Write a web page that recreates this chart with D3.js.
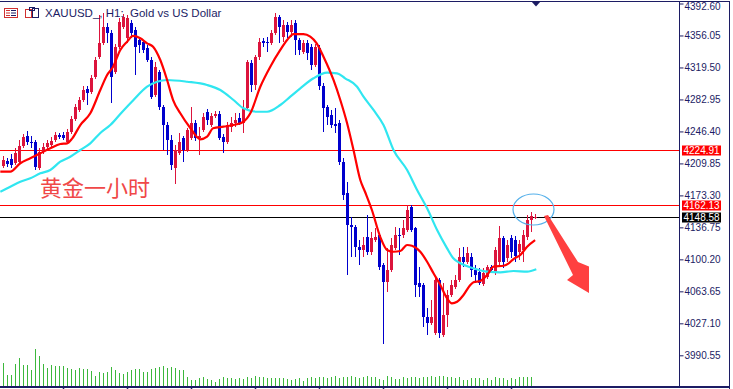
<!DOCTYPE html>
<html>
<head>
<meta charset="utf-8">
<script src="https://cdn.jsdelivr.net/npm/d3@7"></script>
<style>
 body { margin: 0; background: #fff; }
 svg { display: block; font-family: "Liberation Sans", Arial, sans-serif; }
</style>
</head>
<body>
<svg id="chart"></svg>
<script>
// XAUUSD H1 candles (bar 0 = leftmost)
const opens = [
 4206.9,4212.6,4214.9,4210.3,4211.5,4229.7,4241.2,4234.3,4234.3,4204.6,
 4222.9,4228.6,4230.9,4236.6,4242.3,4242.3,4234.3,4245.7,4260.6,4270.9,
 4282.3,4294.9,4291.5,4308.6,4331.5,4347.5,4365.7,4358.9,4314.3,4342.9,
 4365.7,4353.2,4370.3,4362.3,4350.9,4348.6,4341.7,4328.0,4288.0,4314.3,
 4274.3,4253.7,4236.6,4204.6,4221.7,4238.9,4225.2,4238.9,4256.0,4238.9,
 4248.0,4268.6,4253.7,4264.0,4266.3,4240.0,4234.3,4251.5,4256.0,4261.7,
 4256.0,4273.2,4324.6,4299.5,4331.5,4349.7,4348.6,4347.5,4358.9,4377.2,
 4354.3,4368.0,4360.0,4370.3,4350.9,4337.2,4347.5,4342.9,4322.3,4341.7,
 4298.3,4274.3,4265.2,4254.9,4256.0,4211.5,4176.0,4139.5,4137.2,4114.3,
 4110.9,4125.7,4108.6,4122.3,4128.0,4093.7,4074.3,4088.0,4113.2,4128.0,
 4128.0,4133.7,4160.0,4136.0,4073.2,4070.9,4034.3,4027.5,4016.0,4076.6,
 4013.7,4036.6,4059.5,4068.6,4076.6,4102.9,4097.2,4102.9,4088.0,4085.7,
 4072.0,4080.0,4091.5,4085.7,4097.2,4124.6,4101.7,4124.6,4122.3,4108.6,
 4110.9,4125.7,4145.2,4147.5
];
const highs = [
 4218.3,4216.0,4220.6,4227.5,4236.6,4243.5,4246.9,4241.2,4236.6,4227.5,
 4233.2,4236.6,4240.0,4245.7,4244.6,4245.7,4249.2,4264.0,4277.7,4285.7,
 4298.3,4298.3,4310.9,4331.5,4379.5,4381.7,4370.3,4362.3,4346.3,4376.0,
 4380.6,4379.5,4373.7,4365.7,4354.3,4350.9,4345.2,4331.5,4325.7,4316.6,
 4276.6,4257.2,4242.3,4230.9,4244.6,4241.2,4250.3,4274.3,4259.5,4251.5,
 4267.5,4272.0,4267.5,4269.7,4269.7,4243.5,4257.2,4262.9,4267.5,4267.5,
 4282.3,4328.0,4328.0,4333.7,4353.2,4353.2,4354.3,4362.3,4381.7,4379.5,
 4373.7,4371.5,4373.7,4373.7,4353.2,4350.9,4350.9,4346.3,4346.3,4345.2,
 4301.7,4276.6,4270.9,4273.2,4259.5,4216.0,4188.6,4148.6,4139.5,4122.3,
 4125.7,4150.9,4131.5,4136.0,4130.3,4096.0,4113.2,4124.6,4137.2,4136.0,
 4145.2,4162.1,4162.1,4137.2,4091.5,4073.2,4044.6,4053.7,4078.9,4078.9,
 4073.2,4065.2,4076.6,4082.3,4113.2,4114.3,4114.3,4107.5,4093.7,4090.3,
 4090.3,4093.7,4093.7,4114.3,4138.3,4126.9,4122.3,4128.0,4126.9,4122.3,
 4133.7,4150.9,4154.3,4152.0
];
const lows = [
 4204.6,4205.7,4204.6,4208.0,4209.2,4227.5,4230.9,4227.5,4202.3,4202.3,
 4220.6,4226.3,4228.6,4234.3,4237.7,4236.6,4233.2,4243.5,4258.3,4268.6,
 4280.0,4276.6,4289.2,4306.3,4329.2,4345.2,4347.5,4278.9,4312.0,4340.6,
 4363.5,4347.5,4353.2,4310.9,4336.0,4336.0,4325.7,4283.5,4285.7,4270.9,
 4225.2,4219.5,4202.3,4186.3,4219.5,4211.5,4222.9,4236.6,4235.5,4219.5,
 4245.7,4253.7,4251.5,4261.7,4236.6,4221.7,4232.0,4245.7,4251.5,4253.7,
 4244.6,4270.9,4291.5,4293.7,4328.0,4342.9,4337.2,4345.2,4356.6,4347.5,
 4348.6,4353.2,4354.3,4333.7,4333.7,4334.9,4328.0,4316.6,4320.0,4293.7,
 4245.7,4253.7,4250.3,4244.6,4208.0,4168.0,4082.3,4102.9,4102.9,4093.7,
 4102.9,4105.2,4105.2,4120.0,4088.0,4003.5,4062.9,4085.7,4110.9,4105.2,
 4124.6,4131.5,4131.5,4057.2,4057.2,4022.9,4013.7,4025.2,4013.7,4010.3,
 4011.5,4022.9,4057.2,4066.3,4074.3,4091.5,4094.9,4080.0,4073.2,4070.9,
 4069.7,4077.7,4085.7,4082.3,4092.6,4090.3,4097.2,4101.7,4097.2,4099.5,
 4097.2,4122.3,4131.5,4146.3
];
const closes = [
 4213.7,4209.2,4208.0,4221.7,4229.7,4240.0,4234.3,4233.2,4205.7,4222.9,
 4228.6,4233.2,4235.5,4242.3,4240.0,4238.9,4245.7,4260.6,4274.3,4282.3,
 4293.7,4290.3,4307.5,4328.0,4347.5,4365.7,4358.9,4308.6,4342.9,4371.5,
 4377.2,4376.0,4358.9,4342.9,4345.2,4339.5,4328.0,4285.7,4320.0,4274.3,
 4253.7,4236.6,4208.0,4225.2,4234.3,4225.2,4248.0,4256.0,4238.9,4241.2,
 4262.9,4259.5,4264.0,4266.3,4238.9,4234.3,4253.7,4256.0,4259.5,4256.0,
 4273.2,4325.7,4299.5,4331.5,4348.6,4347.5,4347.5,4358.9,4377.2,4365.7,
 4368.0,4360.0,4368.0,4350.9,4339.5,4347.5,4336.0,4322.3,4342.9,4298.3,
 4273.2,4262.9,4253.7,4252.6,4211.5,4173.7,4139.5,4137.2,4114.3,4110.9,
 4116.6,4108.6,4124.6,4125.7,4091.5,4074.3,4088.0,4116.6,4128.0,4126.9,
 4136.0,4156.6,4133.7,4070.9,4068.6,4034.3,4027.5,4034.3,4076.6,4016.0,
 4036.6,4059.5,4070.9,4076.6,4102.9,4097.2,4107.5,4088.0,4082.3,4073.2,
 4084.6,4091.5,4088.0,4110.9,4124.6,4097.2,4116.6,4108.6,4104.0,4117.7,
 4128.0,4145.2,4149.7,4148.58
];
// tick volume, thousands
const volumes = [
 24,12,12,23,29,22,22,17,38,31,23,19,22,21,21,21,19,18,17,19,
 18,18,16,11,15,14,15,20,17,14,13,15,17,18,18,15,15,18,19,20,
 21,19,20,19,17,17,10,7,7,9,10,8,7,5,8,10,9,9,8,9,
 8,10,9,11,10,10,9,9,9,9,9,8,7,8,9,6,9,10,9,10,
 10,9,10,11,9,10,10,11,10,9,10,11,10,10,8,7,11,10,8,8,
 10,9,10,10,9,10,10,11,10,11,11,10,10,9,10,7,7,9,9,9,
 7,9,7,10,9,9,7,9,8,10,10,10,10,1
];

// moving averages, sampled along the drawn lines (bar position, price)
const maFastIdx = [-0.8,1.7,4.2,6.7,9.2,11.7,14.2,15.9,17.2,19.2,21.7,24.2,25.9,27.4,29.2,30.9,32.4,34.2,35.9,37.4,
 39.2,40.9,42.4,44.2,46.7,49.2,50.9,52.4,55,57.5,60,61.7,64.2,66.7,69.2,70.9,72.5,75,76.7,78.3,
 80,82.5,84.2,85.9,87.5,89.2,90.4,92.1,94.2,95.9,97.5,99.2,100.9,102.1,104.2,105.9,107.5,109.2,110.9,112.1,
 113.4,115,116.7,117.5,119.2,120.9,122.5,125,126.3,127.5,129.2,130.9,132.9];
const maFastVal = [4200.4,4200.4,4210.0,4215.7,4221.4,4227.1,4232.0,4232.8,4238.5,4253.7,4267.1,4293.7,4310.9,4320.4,4339.5,4348.9,4355.5,4352.8,4347.1,4343.2,
 4328.0,4305.2,4282.3,4267.1,4250.3,4237.4,4240.4,4250.0,4251.8,4253.7,4257.5,4267.1,4297.5,4320.4,4339.5,4350.9,4357.7,4357.7,4354.7,4347.1,
 4331.8,4305.2,4282.3,4255.7,4225.2,4190.9,4177.2,4156.6,4125.7,4110.9,4108.9,4109.7,4116.6,4115.8,4108.9,4097.5,4084.3,4070.9,4055.7,4050.0,
 4051.8,4059.5,4070.9,4074.0,4075.5,4082.3,4091.8,4092.9,4095.7,4100.6,4105.2,4114.7,4122.3];
const maSlowIdx = [-0.8,1.7,4.2,6.7,9.2,11.7,14.2,16.7,19.2,21.7,24.2,26.7,29.2,32.5,35.9,38.4,40.9,45.9,50.9,54.2,
 57.5,60,63.4,65.9,69.2,71.7,74.2,77.5,80.9,83.4,85.4,88.4,90,92.5,95,97.5,100.9,103.4,105.9,108.4,
 110.9,112.4,114.2,117.5,120.9,124.2,127.5,130.9,133.2];
const maSlowVal = [4177.5,4183.2,4188.9,4192.8,4198.5,4202.3,4211.8,4217.5,4225.2,4232.8,4244.6,4253.7,4266.3,4282.3,4297.5,4303.2,4305.2,4303.2,4299.5,4293.7,
 4282.3,4272.8,4268.9,4268.9,4276.6,4286.1,4295.7,4307.1,4313.5,4312.8,4307.1,4297.5,4286.1,4270.9,4253.7,4225.2,4202.3,4179.5,4158.5,4133.7,
 4112.8,4101.7,4095.7,4090.0,4086.1,4085.4,4086.9,4086.1,4088.8];

const priceTicks = [4392.60,4356.05,4319.50,4282.95,4246.40,4209.85,4173.30,4136.75,4100.20,4063.65,4027.10,3990.55];
const levels = [
 {value: 4224.91, color: "#ff0000"},
 {value: 4162.13, color: "#ff0000"},
 {value: 4148.58, color: "#000000"}
];
const timeTickBars = [15,31,47,63,79,95,111,127];
const title = "XAUUSD_, H1:  Gold vs US Dollar";
const note = "黄金一小时";

const width = 733, height = 389;
const axisX = 679.5, bottomY = 387;
const navy = "#1c1c64";
const bull = "#dc143c", bear = "#0000cd";

const svg = d3.select("#chart").attr("width", width).attr("height", height);

const x = d3.scaleLinear().domain([0, closes.length - 1]).range([3.5, 3.5 + 4 * (closes.length - 1)]);
const y = d3.scaleLinear().domain([3990.55, 4392.60]).range([355.3, 3.5]);
const yVol = d3.scaleLinear().domain([0, 40]).range([bottomY - 0.5, bottomY - 40.5]);

svg.append("defs").append("clipPath").attr("id", "plot")
 .append("rect").attr("x", 0).attr("y", 2).attr("width", axisX).attr("height", bottomY - 2);

const plot = svg.append("g").attr("clip-path", "url(#plot)");

// volumes
plot.append("g").selectAll("line")
 .data(volumes)
 .enter().append("line")
 .attr("x1", (d, i) => x(i)).attr("x2", (d, i) => x(i))
 .attr("y1", yVol(0)).attr("y2", d => yVol(d))
 .attr("stroke", "#3cb83c").attr("stroke-width", 1)
 .attr("shape-rendering", "crispEdges");

// level lines
plot.append("g").selectAll("line")
 .data(levels)
 .enter().append("line")
 .attr("x1", 0).attr("x2", axisX)
 .attr("y1", d => Math.round(y(d.value)) + 0.5).attr("y2", d => Math.round(y(d.value)) + 0.5)
 .attr("stroke", d => d.color).attr("stroke-width", 1)
 .attr("shape-rendering", "crispEdges");

// candles
const bars = d3.range(closes.length);
const candle = plot.append("g").attr("shape-rendering", "crispEdges")
 .selectAll("g").data(bars).enter().append("g");
candle.append("line")
 .attr("x1", i => x(i)).attr("x2", i => x(i))
 .attr("y1", i => y(highs[i])).attr("y2", i => y(lows[i]))
 .attr("stroke", i => closes[i] >= opens[i] ? bull : bear);
candle.append("rect")
 .attr("x", i => x(i) - 1.5)
 .attr("width", 3)
 .attr("y", i => y(Math.max(opens[i], closes[i])))
 .attr("height", i => Math.max(1, Math.abs(y(opens[i]) - y(closes[i]))))
 .attr("fill", i => closes[i] >= opens[i] ? bull : bear);

// moving averages
const maLine = d3.line().x(d => x(d[0])).y(d => y(d[1])).curve(d3.curveMonotoneX);
plot.append("path")
 .datum(d3.zip(maSlowIdx, maSlowVal))
 .attr("d", maLine).attr("fill", "none")
 .attr("stroke", "#30e6f0").attr("stroke-width", 2.2);
plot.append("path")
 .datum(d3.zip(maFastIdx, maFastVal))
 .attr("d", maLine).attr("fill", "none")
 .attr("stroke", "#ff0000").attr("stroke-width", 2.2);

// frame
svg.append("line").attr("x1", 0).attr("x2", 730).attr("y1", 1.5).attr("y2", 1.5)
 .attr("stroke", navy).attr("shape-rendering", "crispEdges");
svg.append("line").attr("x1", 0).attr("x2", 730).attr("y1", bottomY).attr("y2", bottomY)
 .attr("stroke", navy).attr("stroke-width", 2).attr("shape-rendering", "crispEdges");
svg.append("line").attr("x1", axisX).attr("x2", axisX).attr("y1", 1).attr("y2", bottomY)
 .attr("stroke", navy).attr("shape-rendering", "crispEdges");
svg.append("line").attr("x1", 729.5).attr("x2", 729.5).attr("y1", 1).attr("y2", height)
 .attr("stroke", navy).attr("shape-rendering", "crispEdges");

// time ticks under the chart
svg.append("g").selectAll("line")
 .data(timeTickBars)
 .enter().append("line")
 .attr("x1", d => x(d)).attr("x2", d => x(d))
 .attr("y1", bottomY).attr("y2", height)
 .attr("stroke", navy).attr("stroke-width", 1.5);

// price axis
const axis = svg.append("g")
 .attr("transform", `translate(${axisX},0)`)
 .call(d3.axisRight(y).tickValues(priceTicks).tickFormat(d3.format(".2f")).tickSize(4).tickPadding(1));
axis.select(".domain").remove();
axis.selectAll(".tick line").attr("stroke", navy);
axis.selectAll(".tick text")
 .attr("fill", navy)
 .attr("dy", (d, i) => i === 0 ? "0.55em" : "0.32em")
 .style("font-family", "'Liberation Sans', Arial, sans-serif")
 .style("font-size", "10px");

// price labels of the levels
const tag = svg.append("g").selectAll("g").data(levels).enter().append("g")
 .attr("transform", d => `translate(682,${Math.round(y(d.value)) + 0.5})`);
tag.append("rect")
 .attr("x", 0).attr("y", -5).attr("width", 39).attr("height", 10)
 .attr("fill", d => d.color);
tag.append("text")
 .attr("x", 1.5).attr("dy", "0.35em")
 .attr("fill", "#fff").style("font-size", "10px")
 .text(d => d3.format(".2f")(d.value));

// shift marker on top
const mx = x(closes.length - 1) + 0.5;
svg.append("path")
 .attr("d", `M${mx - 5},1 L${mx + 5},1 L${mx},6.5 Z`)
 .attr("fill", navy);

// header icons and title
const icons = svg.append("g");
icons.append("rect").attr("x", 4.5).attr("y", 8.5).attr("width", 13).attr("height", 9)
 .attr("fill", "none").attr("stroke", "#d03030");
[11, 13.5, 16].forEach(v => {
 icons.append("line").attr("x1", 6).attr("x2", 10).attr("y1", v - 0.5).attr("y2", v - 0.5).attr("stroke", "#d03030");
 icons.append("line").attr("x1", 11).attr("x2", 16).attr("y1", v - 0.5).attr("y2", v - 0.5).attr("stroke", navy);
});
icons.append("rect").attr("x", 25.5).attr("y", 9.5).attr("width", 6).attr("height", 8)
 .attr("fill", "none").attr("stroke", "#d03030");
icons.append("rect").attr("x", 32.5).attr("y", 8.5).attr("width", 6).attr("height", 9)
 .attr("fill", "none").attr("stroke", navy);
icons.append("rect").attr("x", 29.5).attr("y", 7.5).attr("width", 5).attr("height", 3)
 .attr("fill", "none").attr("stroke", navy);

svg.append("text")
 .attr("x", 45).attr("y", 17)
 .attr("fill", navy).style("font-size", "11.5px")
 .style("white-space", "pre")
 .text(title);

// annotations
svg.append("text")
 .attr("x", 40).attr("y", 196)
 .attr("fill", "#f04848")
 .style("font-family", "'Noto Sans CJK SC', sans-serif")
 .style("font-size", "22px")
 .text(note);

svg.append("ellipse")
 .attr("cx", 533.5).attr("cy", 209.5).attr("rx", 20.5).attr("ry", 15.5)
 .attr("fill", "none").attr("stroke", "#55b0ea").attr("stroke-width", 1.2);

svg.append("polygon")
 .attr("points", "544,216 548,215 578,262 589,266.5 589,293 567,280 573,275")
 .attr("fill", "#ff4040");
</script>
</body>
</html>
